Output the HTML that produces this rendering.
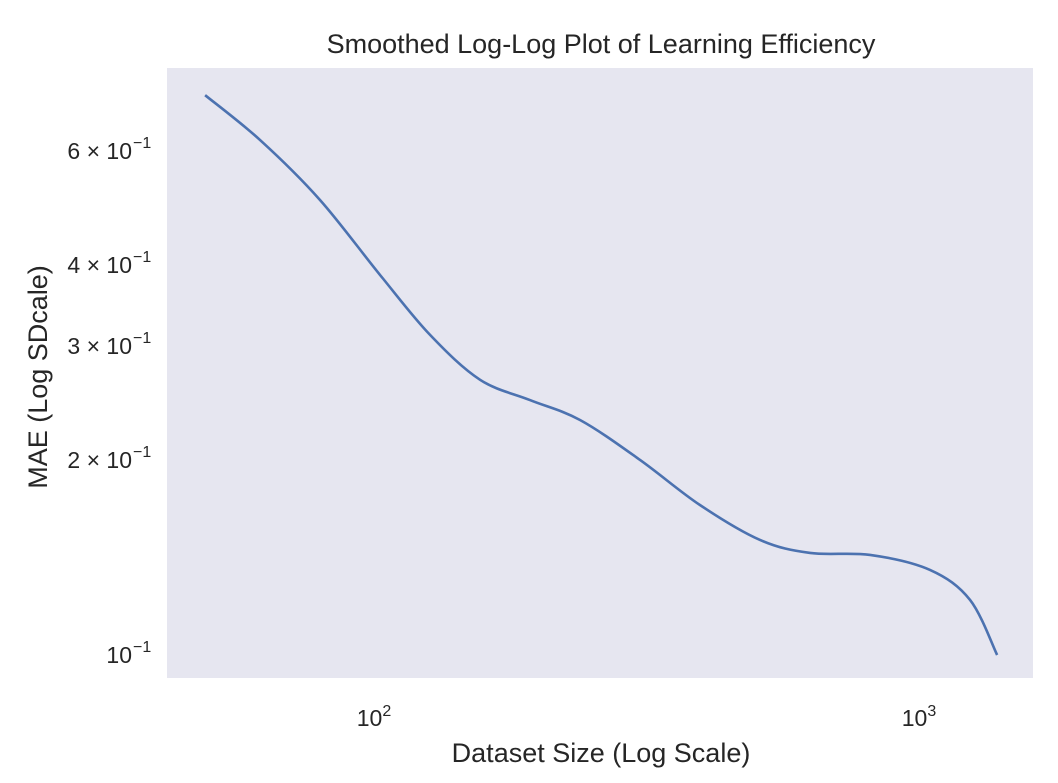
<!DOCTYPE html>
<html><head><meta charset="utf-8"><style>
html,body{margin:0;padding:0;background:#fff;}
svg{display:block;font-family:"Liberation Sans","DejaVu Sans",sans-serif;}
</style></head><body>
<svg id="chart" width="1058" height="783" viewBox="0 0 1058 783">
<rect x="167" y="68" width="866" height="610" fill="#e6e6f0"/>
<text x="601" y="53" font-size="27" text-anchor="middle" fill="#262626">Smoothed Log-Log Plot of Learning Efficiency</text>
<text x="601" y="762" font-size="27" text-anchor="middle" fill="#262626">Dataset Size (Log Scale)</text>
<text transform="translate(47,377) rotate(-90)" font-size="27" text-anchor="middle" fill="#262626">MAE (Log SDcale)</text>
<g id="xticks"></g><g id="yticks"></g>
<path id="line" fill="none" stroke="#4c72b0" stroke-width="2.6"/>
</svg>
<script>
const xValues=[49.2,62.1,79.9,103,127.2,157.1,194.1,239.8,309,398,513,634,817,1052,1246,1397];
const yValues=[0.731,0.623,0.504,0.386,0.312,0.266,0.2474,0.2305,0.2,0.1704,0.1505,0.1437,0.1427,0.1353,0.1216,0.1];
const xTickValues=[100,1000];
const xTickExps=["2","3"];
const yTickValues=[0.1,0.2,0.3,0.4,0.6];
const yTickMant=["","2","3","4","6"];
const ns="http://www.w3.org/2000/svg";
function sx(v){return 373+545*(Math.log10(v)-2);}
function sy(v){return 655-648*(Math.log10(v)+1);}
const xt=document.getElementById('xticks');
xTickValues.forEach((v,i)=>{
 const t=document.createElementNS(ns,'text');
 
 
 t.setAttribute('x',sx(v)+1);t.setAttribute('y',726);t.setAttribute('font-size','23');
 t.setAttribute('text-anchor','middle');t.setAttribute('fill','#262626');
 t.innerHTML='10<tspan font-size="16" dy="-10">'+xTickExps[i]+'</tspan>';
 xt.appendChild(t);
});
const yt=document.getElementById('yticks');
yTickValues.forEach((v,i)=>{
 const t=document.createElementNS(ns,'text');
 
 
 t.setAttribute('x',132);t.setAttribute('y',sy(v)+8);t.setAttribute('font-size','23');
 t.setAttribute('text-anchor','end');t.setAttribute('fill','#262626');
 t.textContent=(yTickMant[i]?yTickMant[i]+' × 10':'10');
 yt.appendChild(t);
 const e=document.createElementNS(ns,'text');
 
 
 e.setAttribute('x',133);e.setAttribute('y',sy(v)-3);e.setAttribute('font-size','16');
 e.setAttribute('fill','#262626');e.textContent='\u22121';
 yt.appendChild(e);
});
const P=xValues.map((x,i)=>[sx(x),sy(yValues[i])]);
let d='M'+P[0][0]+','+P[0][1];
for(let i=0;i<P.length-1;i++){
 const p0=P[Math.max(0,i-1)],p1=P[i],p2=P[i+1],p3=P[Math.min(P.length-1,i+2)];
 const c1=[p1[0]+(p2[0]-p0[0])/6,p1[1]+(p2[1]-p0[1])/6];
 const c2=[p2[0]-(p3[0]-p1[0])/6,p2[1]-(p3[1]-p1[1])/6];
 d+=' C'+c1+' '+c2+' '+p2;
}
document.getElementById('line').setAttribute('d',d);
</script>
</body></html>
